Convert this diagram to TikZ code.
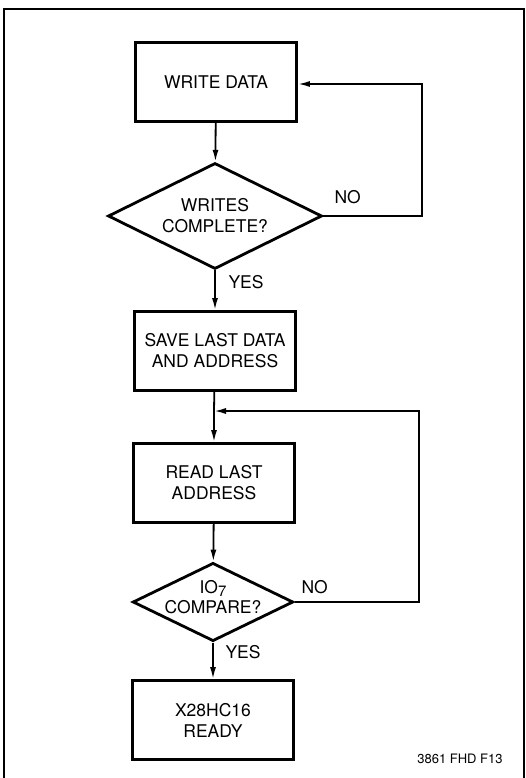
\documentclass[tikz,border=0pt]{standalone}
\usepackage{fontspec}
\setmainfont{TeX Gyre Heros}
\usetikzlibrary{shapes.geometric,arrows.meta}
\begin{document}
\begin{tikzpicture}[
    x=1pt, y=-1pt,
    every node/.style={font=\fontsize{17.5}{21}\selectfont},
    stepbox/.style={draw, line width=2.8pt, minimum width=161pt, minimum height=79pt, align=center, inner sep=0pt},
    decision/.style={draw, diamond, line width=2.8pt, align=center, inner sep=-4pt, shape aspect=2.05, minimum width=#1},
    arrow/.style={-{Latex[length=12pt,width=6pt]}, line width=1.8pt}
]
    \useasboundingbox (0,0) rectangle (525,778);
    % Frame
    \draw[line width=1.8pt] (4,790) -- (4,9) -- (524,9) -- (524,790);

    % Steps
    \node[stepbox] (write) at (216,82) {WRITE DATA};
    \node[decision=214pt, minimum height=106pt] (done) at (215,216) {WRITES\\COMPLETE?};
    \node[stepbox] (save) at (215,351) {SAVE LAST DATA\\AND ADDRESS};
    \node[stepbox] (read) at (214,483) {READ LAST\\ADDRESS};
    \node[decision=160pt, minimum height=77pt, text depth=10pt] (compare) at (213,602) {IO\raisebox{-3pt}{\fontsize{15}{15}\selectfont 7}\\[-1pt]COMPARE?};
    \node[stepbox] (ready) at (213,720) {X28HC16\\READY};

    % Loop corners
    \coordinate (c1) at (422,216);
    \coordinate (c2) at (422,84);
    \coordinate (c3) at (419,602);
    \coordinate (c4) at (419,411);
    \coordinate (join) at (214,411);

    % Arrows
    \draw[arrow] (write) -- (done);
    \draw[arrow] (done) -- (save);
    \draw[line width=1.8pt] (save) -- (join);
    \draw[arrow] (join) -- (read);
    \draw[arrow] (read) -- (compare);
    \draw[arrow] (compare) -- (ready);
    \draw[arrow] (done.east) -- (c1) -- (c2) -- (write.east |- c2);
    \draw[arrow] (compare.east) -- (c3) -- (c4) -- (join);

    % Labels
    \node[anchor=south west] (no1) at (331,207) {NO};
    \node[anchor=west] (yes1) at (225,282) {YES};
    \node[anchor=south west] (no2) at (298,597) {NO};
    \node[anchor=west] (yes2) at (222,652) {YES};
    \node[font=\fontsize{13}{15}\selectfont] (fig) at (460,759) {3861 FHD F13};
\end{tikzpicture}
\end{document}
